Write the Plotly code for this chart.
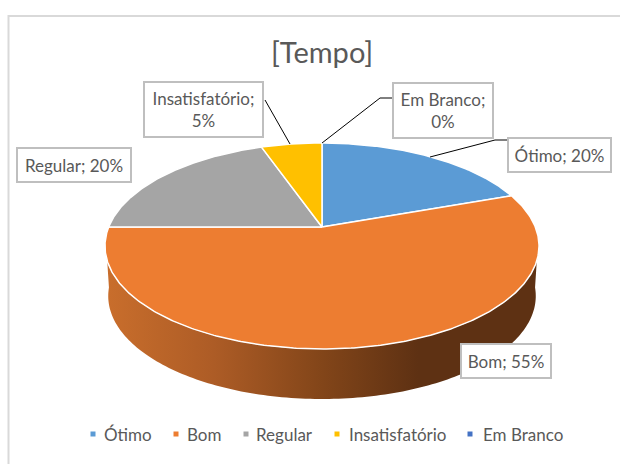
import numpy as np
import plotly.graph_objects as go

categories = ["Ótimo", "Bom", "Regular", "Insatisfatório", "Em Branco"]
values = [19.6, 55.4, 19.6, 5.4, 0]
colors = ["#5B9BD5", "#ED7D31", "#A5A5A5", "#FFC000", "#4472C4"]
title = "[Tempo]"
FONT = "Lato, Carlito, Calibri, sans-serif"
TXT = "#595959"

# projection of the tilted pie
CX, CY, A, B, K = 322.0, 227.0, 213.3, 99.5, 0.1845
DEPTH, RIM_SCALE = 50.0, 0.985


def project(theta, dy=0.0, sx=1.0):
    u, v = np.sin(theta), np.cos(theta)
    d = 1 + K * v
    return CX + sx * A * u / d, CY + dy - B * v / d


fig = go.Figure()

# rim (front half of the pie)
th_top = np.linspace(np.radians(96), np.radians(264), 160)
xt, yt = project(th_top)
xb, yb = project(th_top[::-1], DEPTH, RIM_SCALE)
fig.add_trace(go.Scatter(
    x=np.r_[xt, xb], y=np.r_[yt, yb], mode="none", fill="toself",
    fillgradient=dict(type="horizontal", start=105, stop=540,
                      colorscale=[[0, "#C96E2C"], [0.25, "#AD5C26"], [0.5, "#824519"],
                                  [0.72, "#5E3113"], [1, "#5E3113"]]),
    hoverinfo="skip", showlegend=False))

# top slices
total = sum(values)
start = 0.0
for name, val, col in zip(categories, values, colors):
    if val > 0:
        end = start + val / total * 2 * np.pi
        th = np.linspace(start, end, max(4, int(val * 6)))
        x, y = project(th)
        fig.add_trace(go.Scatter(
            x=np.r_[CX, x, CX], y=np.r_[CY, y, CY], mode="lines", fill="toself",
            fillcolor=col, line=dict(color="white", width=1.5),
            name=name, hoverinfo="name", showlegend=False))
    start += val / total * 2 * np.pi

# leader lines
leaders = [
    ([430, 495, 507], [157, 140, 140]),
    ([322, 380, 392], [143, 98, 98]),
    ([290, 265], [144, 100]),
]
for lx, ly in leaders:
    fig.add_trace(go.Scatter(x=lx, y=ly, mode="lines", line=dict(color="black", width=1),
                             hoverinfo="skip", showlegend=False))

# legend markers
legend_x = [93, 176, 246, 337, 470]
legend_text_x = [102, 185, 254, 347, 481]
for lx, col, name in zip(legend_x, colors, categories):
    fig.add_trace(go.Scatter(x=[lx], y=[434], mode="markers",
                             marker=dict(symbol="square", size=5, color=col),
                             name=name, hoverinfo="name", showlegend=False))

ann = [dict(x=322, y=52, text=title, showarrow=False, font=dict(family=FONT, size=29, color=TXT),
            xref="x", yref="y", yshift=1)]
for lx, name in zip(legend_text_x, categories):
    ann.append(dict(x=lx, y=434, text=name, showarrow=False, xanchor="left", xref="x", yref="y",
                    font=dict(family=FONT, size=17, color=TXT)))

box_pos = [(559.5, 154.5, 93, 1), (506, 361, 80, 1), (74, 165, 104, 1), (203.5, 109.5, 109, 2), (443, 110.5, 90, 2)]
for (bx, by, w, lines), name, val in zip([box_pos[0], box_pos[1], box_pos[2], box_pos[3], box_pos[4]], categories, values):
    sep = "<br>" if lines == 2 else " "
    t = f"{name};{sep}{round(val)}%"
    ann.append(dict(x=bx, y=by, text=t, showarrow=False, xref="x", yref="y", width=w,
                    height=24 if lines == 1 else 45,
                    bgcolor="white", bordercolor="#BFBFBF", borderwidth=2, borderpad=4,
                    align="center", font=dict(family=FONT, size=17, color=TXT)))

fig.update_layout(
    width=620, height=464, margin=dict(l=0, r=0, t=0, b=0),
    paper_bgcolor="white", plot_bgcolor="white", showlegend=False,
    xaxis=dict(range=[0, 620], visible=False, fixedrange=True),
    yaxis=dict(range=[464, 0], visible=False, fixedrange=True),
    annotations=ann,
    shapes=[dict(type="rect", x0=8.5, y0=16, x1=640, y1=490, line=dict(color="#D9D9D9", width=2), layer="below")],
)
fig.write_html("out.html", config={"displayModeBar": False},
               post_script="document.body.style.margin='0';document.documentElement.style.overflow='hidden';")
